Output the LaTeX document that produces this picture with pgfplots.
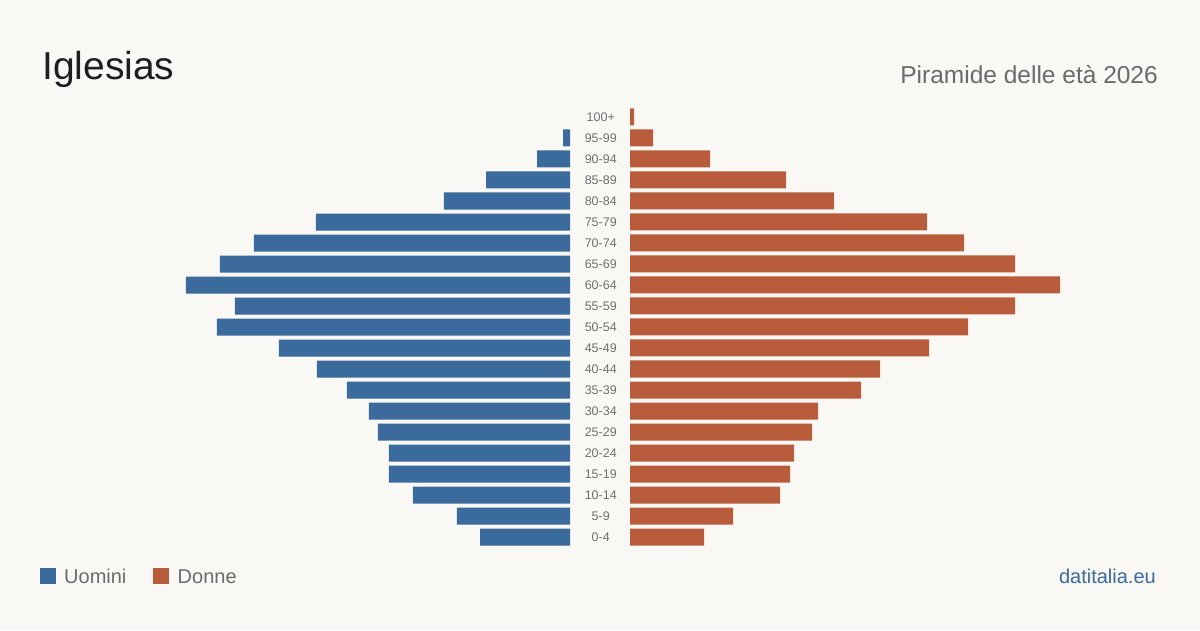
\documentclass[border=0pt]{standalone}
\usepackage{pgfplots}
\pgfplotsset{compat=1.18}
\usepackage{fontspec}
\setmainfont{Liberation Sans}
\definecolor{bg}{HTML}{F9F8F4}
\definecolor{male}{HTML}{3A6B9C}
\definecolor{female}{HTML}{B95C3B}
\definecolor{txt}{HTML}{1E1E1E}
\definecolor{sub}{HTML}{6B6B6B}
\definecolor{lab}{HTML}{707070}
\begin{document}
\begin{tikzpicture}[x=1pt,y=1pt]
\fill[bg] (0,0) rectangle (1200,630);
\useasboundingbox (0,0) rectangle (1200,630);
\node[anchor=base west,inner sep=0,text=txt,font=\fontsize{39}{44}\selectfont] at (42,550) {Iglesias};
\node[anchor=base east,inner sep=0,text=sub,font=\fontsize{24.5}{28}\selectfont] at (1158,546) {Piramide delle età 2026};
% left axis (men)
\begin{axis}[
  at={(570pt,82.5pt)}, anchor=south east,
  scale only axis, width=400pt, height=441pt,
  xmin=0, xmax=400, ymin=-0.5, ymax=20.5,
  x dir=reverse, hide axis,
  xbar, bar width=17pt,
]
\addplot[fill=male, draw=none] coordinates {
(90,0) (113,1) (157,2) (181,3) (181,4) (192,5) (201,6) (223,7) (253,8) (291,9)
(353,10) (335,11) (384,12) (350,13) (316,14) (254,15) (126,16) (84,17) (33,18) (7,19)};
\end{axis}
% right axis (women)
\begin{axis}[
  at={(630pt,82.5pt)}, anchor=south west,
  scale only axis, width=440pt, height=441pt,
  xmin=0, xmax=440, ymin=-0.5, ymax=20.5,
  axis line style={draw=none}, tick style={draw=none},
  xtick=\empty, ytick={0,...,20},
  yticklabels={0-4,5-9,10-14,15-19,20-24,25-29,30-34,35-39,40-44,45-49,50-54,55-59,60-64,65-69,70-74,75-79,80-84,85-89,90-94,95-99,100+},
  yticklabel style={anchor=center, xshift=-25pt, text=lab, font=\fontsize{12.5}{14}\selectfont, inner sep=0pt},
  xbar, bar width=17pt,
]
\addplot[fill=female, draw=none] coordinates {
(74,0) (103,1) (150,2) (160,3) (164,4) (182,5) (188,6) (231,7) (250,8) (299,9)
(338,10) (385,11) (430,12) (385,13) (334,14) (297,15) (204,16) (156,17) (80,18) (23,19) (4,20)};
\end{axis}
% legend
\fill[male] (40,46) rectangle (56,62);
\node[anchor=base west,inner sep=0,text=sub,font=\fontsize{20}{24}\selectfont] at (64,47) {Uomini};
\fill[female] (152.5,46) rectangle (168.5,62);
\node[anchor=base west,inner sep=0,text=sub,font=\fontsize{20}{24}\selectfont] at (177.5,47) {Donne};
\node[anchor=base east,inner sep=0,text=male,font=\fontsize{20}{24}\selectfont] at (1156,47) {datitalia.eu};
\end{tikzpicture}
\end{document}
